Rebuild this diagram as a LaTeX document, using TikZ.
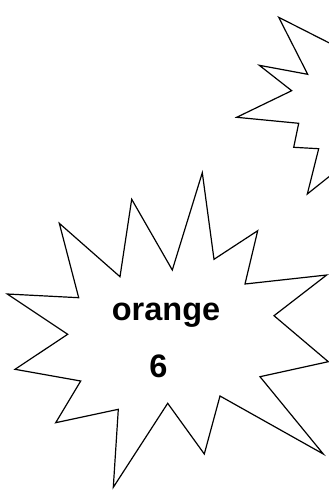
\documentclass[tikz,border=0pt]{standalone}
\usepackage{fontspec}
\setmainfont{Liberation Sans}
\tikzset{>=latex}
\tikzset{burst/.style={line width=1.2pt, line join=miter, black}}
\tikzset{burstlabel/.style={anchor=base, font=\bfseries\fontsize{32.5}{38}\selectfont}}

\begin{document}
\begin{tikzpicture}[x=1pt, y=-1pt]
    \useasboundingbox (0,0) rectangle (329,490);
    \clip (0,0) rectangle (329,490);

    % big burst, lower left
    \draw[burst] (202.3,172.7) -- (214,259.3) -- (257.7,230.7) -- (245,284)
        -- (326.7,275) -- (274,315.7) -- (328.3,361.7) -- (260,376.7)
        -- (323.3,454) -- (220,396) -- (204.3,454) -- (167.7,403.3)
        -- (113.3,487.3) -- (118.3,409.3) -- (55.7,422.7) -- (80.7,381)
        -- (15,369.3) -- (67.7,334.3) -- (7.3,294) -- (78.7,297.7)
        -- (59.3,223.3) -- (120,276.7) -- (131.7,199.3) -- (172.3,270) -- cycle;

    % second burst, cut off by the right edge
    \draw[burst] (340,48.4) -- (278.7,17.3) -- (307.7,74.3) -- (259.3,65.3)
        -- (291.7,90.7) -- (236.7,117.3) -- (298.7,123.3) -- (293.7,147.3)
        -- (318.7,148.7) -- (307.3,194) -- (340,167.9);

    \node[burstlabel] (word) at (166,320.7) {orange};
    \node[burstlabel] (num) at (158.3,377.3) {6};
\end{tikzpicture}
\end{document}
